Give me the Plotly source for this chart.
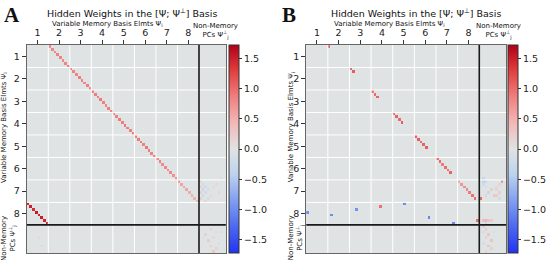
import numpy as np
import plotly.graph_objects as go

# ---------------- data ----------------
N_MEM = 64          # variable-memory basis elements (8 variables x 8)
N_NON = 10          # non-memory PCs
GROUP = 8
var_labels = ["1", "2", "3", "4", "5", "6", "7", "8"]

# Panel A: shifted diagonal (row r -> col r+8) and wrap-around block
a_diag_vals = [
    0.78, 0.82, 0.80, 0.85, 0.83, 0.80, 0.84, 0.86,
    0.83, 0.85, 0.82, 0.88, 0.84, 0.80, 0.86, 0.83,
    0.85, 0.88, 0.84, 0.90, 0.86, 0.83, 0.87, 0.85,
    0.88, 0.86, 0.90, 0.87, 0.92, 0.88, 0.85, 0.90,
    0.86, 0.90, 0.88, 0.85, 0.92, 0.87, 0.84, 0.88,
    0.80, 0.84, 0.78, 0.82, 0.76, 0.80, 0.74, 0.70,
    0.62, 0.58, 0.55, 0.60, 0.52, 0.50, 0.48, 0.45,
]
a_wrap_vals = [1.45, 1.50, 1.42, 1.55, 1.48, 1.52, 1.46, 1.50]
a_noise_rows = [48, 49, 50, 50, 51, 51, 52, 52, 53, 53, 54, 54, 55, 49, 52, 47, 50,
                65, 66, 67, 68, 69, 70, 71, 72, 73, 66, 68, 68, 71]
a_noise_cols = [64, 65, 64, 66, 65, 67, 64, 66, 65, 68, 64, 67, 66, 70, 71, 72, 69,
                68, 70, 66, 69, 67, 71, 68, 70, 69, 72, 65, 4, 5]
a_noise_vals = [0.15, -0.2, 0.25, -0.25, -0.3, -0.15, 0.2, -0.2, -0.25, 0.1, 0.2, -0.15, 0.15, 0.1, 0.12, -0.1, 0.1,
                0.15, -0.12, 0.2, 0.12, 0.25, -0.1, 0.2, 0.15, 0.3, 0.1, -0.1, 0.08, 0.08]

# Panel B: sparse entries
b_rows = [0, 8, 9, 16, 17, 18, 24, 25, 26, 27, 32, 33, 34, 35, 36,
          40, 41, 42, 43, 44, 45, 48, 49, 50, 51, 52, 53, 54,
          59, 60, 58, 57, 56, 61, 63, 62, 54]
b_cols = [8, 16, 17, 24, 25, 26, 32, 33, 34, 35, 40, 41, 42, 43, 44,
          48, 49, 50, 51, 52, 53, 56, 57, 58, 59, 60, 61, 62,
          0, 9, 18, 27, 36, 45, 54, 63, 64]
b_vals = [1.0, 1.0, 1.1, 0.9, 1.0, 1.05, 1.0, 1.05, 1.0, 1.1, 1.05, 1.1, 1.0, 1.05, 1.1,
          0.95, 1.0, 0.9, 1.0, 0.95, 1.05, 0.6, 0.7, 0.75, 0.8, 0.9, 0.95, 1.0,
          -1.0, -1.0, -0.95, 0.95, -1.0, -1.05, -1.05, 0.95, 1.0]
b_noise_rows = [48, 47, 48, 48, 49, 50, 51, 51, 52, 52, 53, 53, 53, 54, 50, 49,
                62, 62, 62, 62, 63, 64, 65, 66, 67, 68, 69, 70, 71, 72, 73, 66]
b_noise_cols = [72, 65, 65, 66, 65, 66, 68, 70, 67, 71, 66, 69, 70, 71, 70, 71,
                65, 66, 67, 68, 66, 65, 66, 65, 67, 66, 68, 65, 67, 68, 66, 69]
b_noise_vals = [0.7, -0.3, -0.35, -0.25, -0.2, -0.15, 0.2, 0.15, -0.3, 0.2, 0.15, 0.3, 0.25, -0.2, 0.12, 0.15,
                0.4, 0.45, 0.3, 0.25, -0.2, 0.2, 0.25, -0.2, 0.3, 0.2, 0.35, -0.15, 0.3, 0.2, 0.15, -0.15]

cbar_ticks = [-1.5, -1.0, -0.5, 0.0, 0.5, 1.0, 1.5]
ZLIM = 1.72

# ---------------- build matrices ----------------
N = N_MEM + N_NON
A = np.zeros((N, N))
for r, v in enumerate(a_diag_vals):
    A[r, r + GROUP] = v
for k, v in enumerate(a_wrap_vals):
    A[N_MEM - GROUP + k, k] = v
for r, c, v in zip(a_noise_rows, a_noise_cols, a_noise_vals):
    A[r, c] = v

B = np.zeros((N, N))
for r, c, v in zip(b_rows, b_cols, b_vals):
    B[r, c] = v
for r, c, v in zip(b_noise_rows, b_noise_cols, b_noise_vals):
    B[r, c] = v

W, H = 547, 260
FONT = "DejaVu Sans"

cscale = [
    [0.0, "#2233f2"],
    [0.12, "#4a66f0"],
    [0.25, "#809ef0"],
    [0.38, "#bed3ee"],
    [0.5, "#dfe3e3"],
    [0.62, "#f2baba"],
    [0.75, "#ef8080"],
    [0.88, "#e03c3c"],
    [1.0, "#b00018"],
]

def px(x):
    return x / W

def py(y):
    return 1 - y / H

panels = [
    dict(z=A, x0=27, x1=228, xa="x", ya="y", cb=231, letter="A", letter_x=2,
         title_x=133, xt_x=108, nm_x=217, yt_x=4),
    dict(z=B, x0=309, x1=511, xa="x2", ya="y2", cb=513, letter="B", letter_x=283,
         title_x=420, xt_x=393, nm_x=503, yt_x=294),
]
Y0, Y1 = 45, 253

fig = go.Figure()
shapes = []
annotations = []
idx = list(range(N))
tickpos = [GROUP * k + (GROUP - 1) / 2 for k in range(len(var_labels))]

for i, p in enumerate(panels):
    fig.add_trace(go.Heatmap(
        z=p["z"], x=idx, y=idx, xaxis=p["xa"], yaxis=p["ya"],
        colorscale=cscale, zmin=-ZLIM, zmax=ZLIM,
        colorbar=dict(
            x=px(p["cb"]), xanchor="left", y=py((Y0 + Y1) / 2), yanchor="middle",
            len=(Y1 - Y0) / H, lenmode="fraction", thickness=10,
            xpad=0, ypad=0, outlinewidth=1, outlinecolor="#333",
            tickvals=cbar_ticks, tickformat=".1f", ticks="outside", ticklen=3,
            tickcolor="#333", tickfont=dict(size=9.5, family=FONT, color="#222"),
        ),
    ))
    sfx = "" if i == 0 else "2"
    axx = dict(domain=[px(p["x0"]), px(p["x1"])], range=[-0.5, N - 0.5],
               side="top", tickvals=tickpos, ticktext=var_labels, ticks="outside",
               ticklen=4, tickcolor="#333", showgrid=False, zeroline=False,
               showline=True, linecolor="#666", linewidth=1, mirror=True,
               tickfont=dict(size=9.5, family=FONT, color="#222"),
               anchor="y" + sfx)
    axy = dict(domain=[py(Y1), py(Y0)], range=[N - 0.5, -0.5],
               tickvals=tickpos, ticktext=var_labels, ticks="outside",
               ticklen=4, tickcolor="#333", showgrid=False, zeroline=False,
               showline=True, linecolor="#666", linewidth=1, mirror=True,
               tickfont=dict(size=9.5, family=FONT, color="#222"),
               anchor="x" + sfx)
    fig.update_layout(**{"xaxis" + sfx: axx, "yaxis" + sfx: axy})

    # white grid at group boundaries
    for k in range(1, len(var_labels)):
        b = GROUP * k - 0.5
        shapes.append(dict(type="line", xref=p["xa"], yref=p["ya"], x0=b, x1=b,
                           y0=-0.5, y1=N - 0.5, line=dict(color="white", width=1),
                           layer="above"))
        shapes.append(dict(type="line", xref=p["xa"], yref=p["ya"], x0=-0.5, x1=N - 0.5,
                           y0=b, y1=b, line=dict(color="white", width=1),
                           layer="above"))
    # black separators
    b = N_MEM - 0.5
    shapes.append(dict(type="line", xref=p["xa"], yref=p["ya"], x0=b, x1=b,
                       y0=-0.5, y1=N - 0.5, line=dict(color="#1a1a1a", width=1.6),
                       layer="above"))
    shapes.append(dict(type="line", xref=p["xa"], yref=p["ya"], x0=-0.5, x1=N - 0.5,
                       y0=b, y1=b, line=dict(color="#1a1a1a", width=1.6),
                       layer="above"))

    # texts
    annotations.append(dict(text="<b>" + p["letter"] + "</b>", x=px(p["letter_x"]), y=py(1),
                            xref="paper", yref="paper", xanchor="left", yanchor="top",
                            showarrow=False,
                            font=dict(size=21, family="Liberation Serif", color="#111")))
    annotations.append(dict(text="Hidden Weights in the [Ψ; Ψ<sup>⊥</sup>] Basis",
                            x=px(p["title_x"]), y=py(13), xref="paper", yref="paper",
                            xanchor="center", yanchor="middle", showarrow=False,
                            font=dict(size=9.5, family=FONT, color="#111")))
    annotations.append(dict(text="Variable Memory Basis Elmts Ψ<sub>i</sub>",
                            x=px(p["xt_x"]), y=py(24), xref="paper", yref="paper",
                            xanchor="center", yanchor="middle", showarrow=False,
                            font=dict(size=7, family=FONT, color="#111")))
    annotations.append(dict(text="Non-Memory<br>PCs Ψ<sup>⊥</sup><sub>j</sub>",
                            x=px(p["nm_x"]), y=py(31), xref="paper", yref="paper",
                            xanchor="center", yanchor="middle", showarrow=False,
                            font=dict(size=7, family=FONT, color="#111")))
    annotations.append(dict(text="Variable Memory Basis Elmts Ψ<sub>i</sub>",
                            x=px(p["yt_x"]), y=py(127), xref="paper", yref="paper",
                            xanchor="center", yanchor="middle", showarrow=False,
                            textangle=-90,
                            font=dict(size=7, family=FONT, color="#111")))
    annotations.append(dict(text="Non-Memory<br>PCs Ψ<sup>⊥</sup><sub>j</sub>",
                            x=px(p["yt_x"] + 5), y=py(238), xref="paper", yref="paper",
                            xanchor="center", yanchor="middle", showarrow=False,
                            textangle=-90,
                            font=dict(size=7, family=FONT, color="#111")))

fig.update_layout(
    width=W, height=H, margin=dict(l=0, r=0, t=0, b=0),
    paper_bgcolor="white", plot_bgcolor="#dfe3e3",
    shapes=shapes, annotations=annotations, showlegend=False,
    font=dict(family=FONT),
)
fig.write_html("out.html", config={"displayModeBar": False},
               post_script="document.body.style.margin='0';document.body.style.padding='0';")
